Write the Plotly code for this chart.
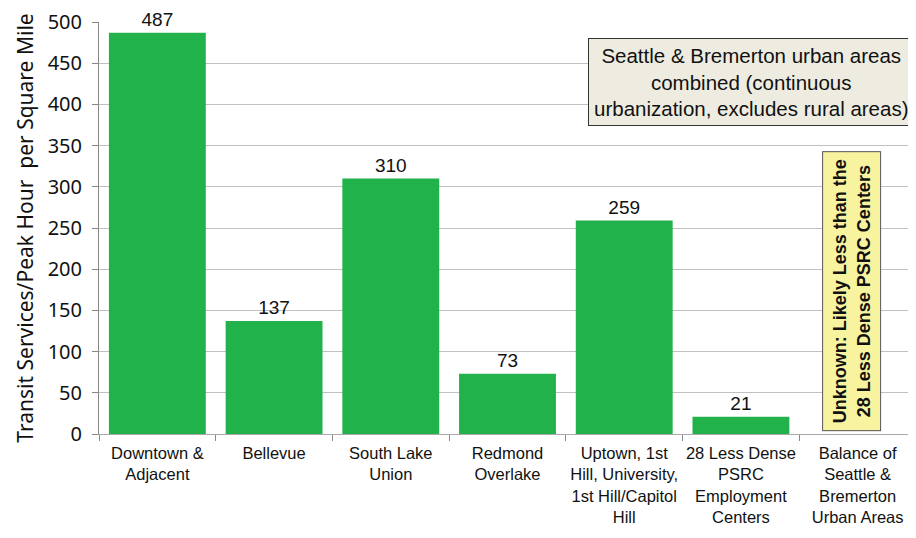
import plotly.graph_objects as go

categories = [
    "Downtown &<br>Adjacent",
    "Bellevue",
    "South Lake<br>Union",
    "Redmond<br>Overlake",
    "Uptown, 1st<br>Hill, University,<br>1st Hill/Capitol<br>Hill",
    "28 Less Dense<br>PSRC<br>Employment<br>Centers",
    "Balance of<br>Seattle &<br>Bremerton<br>Urban Areas",
]
values = [487, 137, 310, 73, 259, 21, None]
labels = ["487", "137", "310", "73", "259", "21", ""]
y_ticks = [0, 50, 100, 150, 200, 250, 300, 350, 400, 450, 500]

GREEN = "#21b24c"

fig = go.Figure(go.Bar(
    x=categories, y=values,
    marker=dict(color=GREEN, line=dict(width=0)),
    text=labels, textposition="outside", cliponaxis=False,
    textfont=dict(family="Liberation Sans, Arial", size=19, color="#111"),
    width=0.83,
))

fig.add_annotation(
    xref="paper", yref="paper", x=0.999, y=0.748, xanchor="right", yanchor="bottom",
    text="Seattle & Bremerton urban areas<br>combined (continuous<br>urbanization, excludes rural areas)",
    showarrow=False, align="center",
    font=dict(family="Liberation Sans, Arial", size=20.5, color="#111"),
    bgcolor="#eeece1", bordercolor="#333", borderwidth=1, borderpad=5,
)
fig.add_annotation(
    x=6, y=3, yref="y", xref="x", xanchor="center", yanchor="bottom", xshift=-6,
    text="<b>Unknown: Likely Less than the<br>28 Less Dense PSRC Centers</b>",
    textangle=-90, showarrow=False, align="center",
    font=dict(family="Liberation Sans, Arial", size=18, color="#111"),
    bgcolor="#f8f39f", bordercolor="#555", borderwidth=1, borderpad=7,
)

# the page body adds an 8px offset, so the figure is a bit smaller
fig.update_layout(
    width=908, height=530,
    margin=dict(l=91, r=0, t=14, b=104),
    plot_bgcolor="white", paper_bgcolor="white",
    showlegend=False,
    bargap=0.17,
)
fig.update_xaxes(
    automargin=False, tickangle=0,
    tickfont=dict(family="Liberation Sans Narrow, Arial Narrow, Liberation Sans", size=16.5, color="#111"),
    ticks="outside", tickson="boundaries", ticklen=6, tickcolor="#888",
    ticklabelstandoff=4,
    showline=True, linecolor="#aaa", linewidth=1,
)
fig.update_yaxes(
    automargin=False, ticklabeloverflow="allow",
    range=[0, 500], tickvals=y_ticks,
    tickfont=dict(family="Noto Sans, Open Sans", size=20, color="#111"),
    ticklabelstandoff=6,
    title=dict(text="Transit Services/Peak Hour  per Square Mile",
               font=dict(family="Noto Sans, Open Sans", size=21, color="#111"), standoff=8),
    ticks="outside", ticklen=6, tickcolor="#888",
    showline=True, linecolor="#888", linewidth=1,
    showgrid=True, gridcolor="#c0c0c0", gridwidth=1,
    zeroline=False,
)

fig.write_html("out.html")
